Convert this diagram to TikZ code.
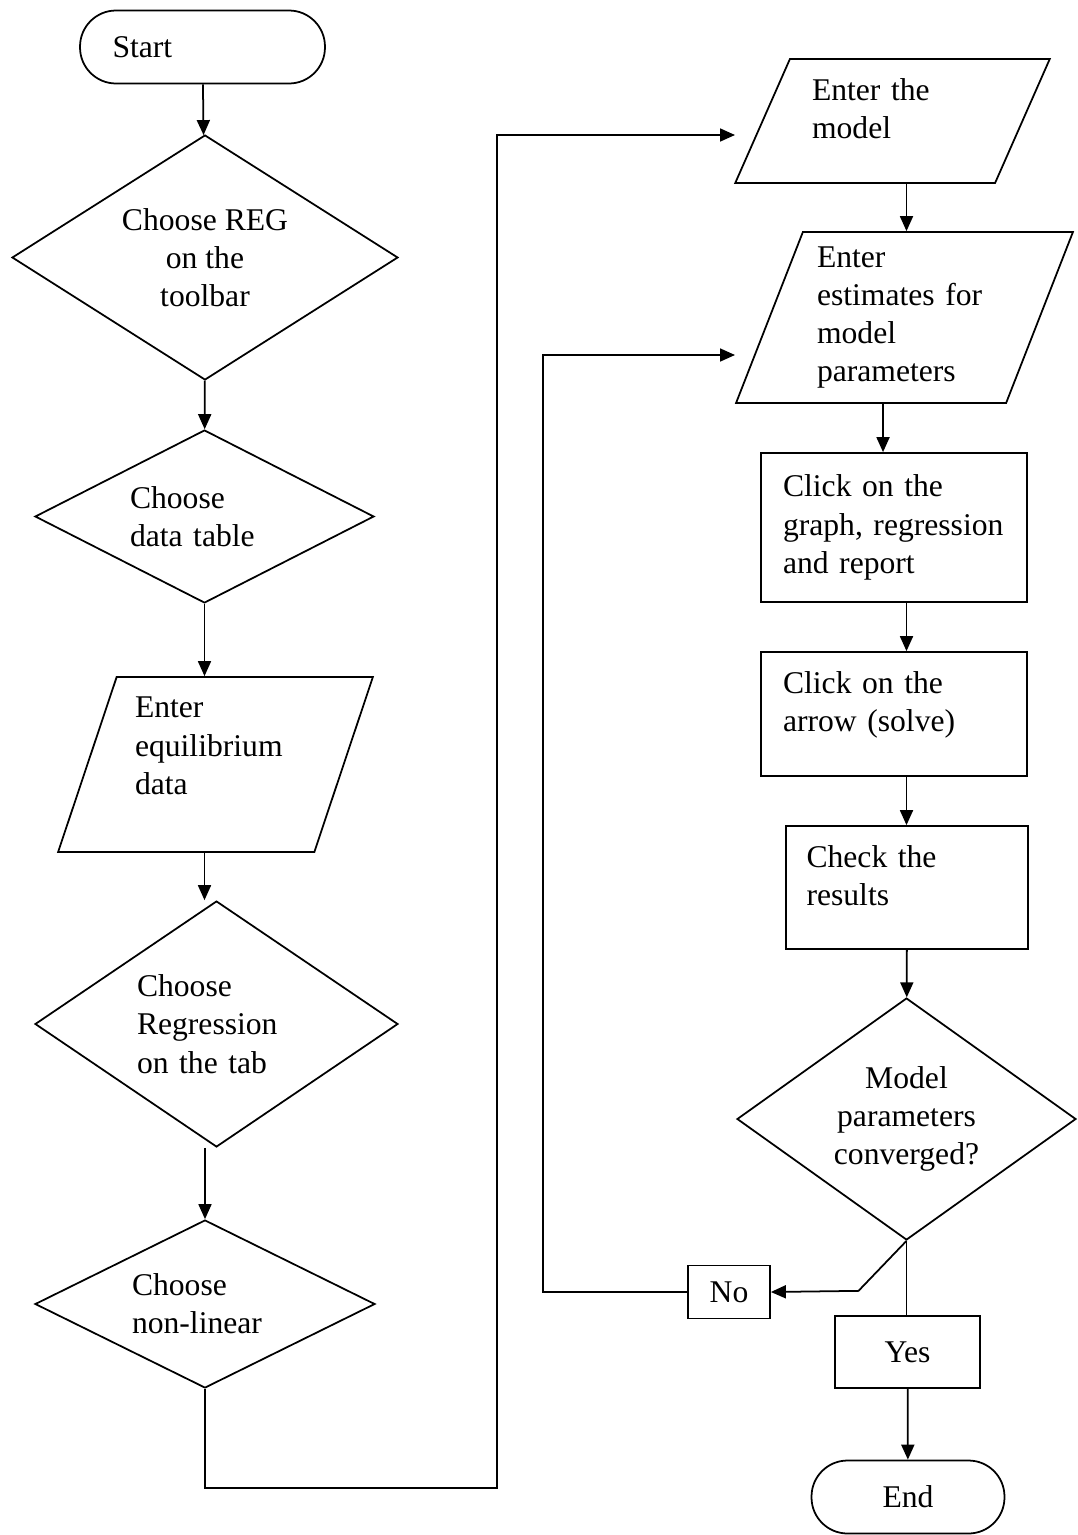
\documentclass[tikz,border=0pt]{standalone}
\usepackage{fontspec}
\setmainfont{Liberation Serif}
\usetikzlibrary{shapes.geometric, arrows.meta, positioning}

\begin{document}
\begin{tikzpicture}[
  x=0.02cm, y=-0.02cm,
  font=\fontsize{18}{21.8}\selectfont,
  line width=1pt,
  seta/.style={-{Triangle[length=0.3cm,width=0.26cm]}},
  terminal/.style={draw, rounded corners=0.72cm, inner sep=0pt, minimum height=1.46cm},
  decisao/.style={draw, diamond, inner sep=0pt, align=left},
  entrada/.style={draw, trapezium, trapezium stretches=true, inner sep=0pt, align=left},
  processo/.style={draw, rectangle, inner sep=0pt, align=left}
]
\useasboundingbox (0,0) rectangle (1078,1535);

% left column
\node[terminal, minimum width=4.9cm, text width=3.6cm, align=left] (inicio) at (202.5,47) {Start};
\node[decisao, aspect=1.58, minimum width=7.72cm, minimum height=4.9cm, align=center] (escolhereg) at (205,257.5) {Choose REG\\on the\\toolbar};
\node[decisao, aspect=1.96, minimum width=6.78cm, minimum height=3.46cm, text width=2.98cm] (escolhetab) at (204.5,516.5) {Choose\\data table};
\node[entrada, trapezium left angle=70.5, trapezium right angle=109.5, minimum width=6.3cm, minimum height=3.5cm, text width=3.22cm] (dadoseq) at (215.5,764.5) {Enter\\equilibrium\\data\par\kern0.74cm};
\node[decisao, aspect=1.48, minimum width=7.26cm, minimum height=4.92cm, text width=3.18cm] (escolheregr) at (216.5,1024) {Choose\\Regression\\on the tab};
\node[decisao, aspect=2.02, minimum width=6.8cm, minimum height=3.36cm, text width=2.92cm] (naolinear) at (205,1304) {Choose\\non-linear};

% right column
\node[entrada, trapezium left angle=63.1, trapezium right angle=116.9, minimum width=6.3cm, minimum height=2.48cm, text width=3.22cm] (modelo) at (892.5,121) {Enter the\\model\par\kern0.48cm};
\node[entrada, trapezium left angle=68, trapezium right angle=112, minimum width=6.74cm, minimum height=3.42cm, text width=3.5cm] (estimativas) at (904.5,317.5) {Enter\\estimates for\\model\\parameters};
\node[processo, minimum width=5.32cm, minimum height=2.98cm, text width=4.44cm] (grafico) at (894,527.5) {Click on the\\graph, regression\\and report};
\node[processo, minimum width=5.32cm, minimum height=2.48cm, text width=4.44cm] (resolve) at (894,714) {Click on the\\arrow (solve)\par\kern0.36cm};
\node[processo, minimum width=4.84cm, minimum height=2.46cm, text width=4.02cm] (verifica) at (907,887.5) {Check the\\results\par\kern0.48cm};
\node[decisao, aspect=1.38, minimum width=6.78cm, minimum height=4.84cm, align=center] (convergiu) at (906.5,1119) {Model\\parameters\\converged?};
\node[processo, minimum width=1.64cm, minimum height=1.06cm, align=center] (nao) at (729,1292) {No};
\node[processo, minimum width=2.9cm, minimum height=1.44cm, align=center] (sim) at (907.5,1352) {Yes};
\node[terminal, minimum width=3.86cm, align=center] (fim) at (908,1497) {End};

\coordinate (voltaA) at (497,1488);
\coordinate (pontaA) at (735,135);
\coordinate (voltaB) at (543,1292);
\coordinate (pontaB) at (735,355);

% connectors
\draw[seta] (inicio) -- (escolhereg);
\draw[seta] (escolhereg) -- (escolhetab);
\draw[seta] (escolhetab.south) -- (escolhetab.south |- dadoseq.north);
\draw[seta] (escolhetab.south |- dadoseq.south) -- (escolhetab.south |- escolheregr.north);
\draw[seta] (naolinear.north |- escolheregr.south) -- (naolinear.north);
\draw[seta] (naolinear.south) |- (voltaA) |- (pontaA);
\draw[seta] (modelo.south -| convergiu.north) -- (estimativas.north -| convergiu.north);
\draw[seta] ([xshift=-0.43cm]estimativas.south) -- ([xshift=-0.43cm]estimativas.south |- grafico.north);
\draw[seta] (grafico.south -| convergiu.north) -- (resolve.north -| convergiu.north);
\draw[seta] (resolve.south -| convergiu.north) -- (verifica.north -| convergiu.north);
\draw[seta] (verifica) -- (convergiu);
\draw (convergiu.south) -- (convergiu.south |- sim.north);
\draw[seta] (convergiu.south) -- ++(-48,50) -- (nao.east);
\draw[seta] (nao.west) -- (voltaB) |- (pontaB);
\draw[seta] (sim) -- (fim);
\end{tikzpicture}
\end{document}
